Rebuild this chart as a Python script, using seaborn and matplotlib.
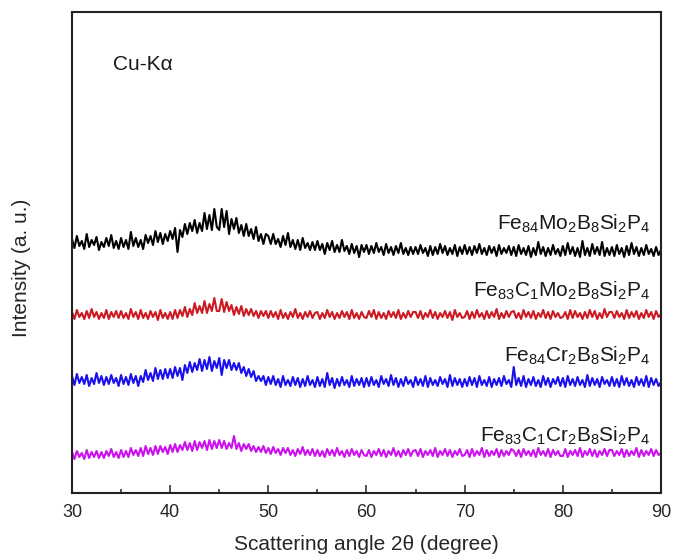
import numpy as np
import pandas as pd
import matplotlib
matplotlib.use('Agg')
import matplotlib.pyplot as plt
import seaborn as sns

# XRD patterns, 2theta from 30 to 90 deg in 0.25 deg steps (241 points each)
two_theta = np.arange(30, 90.01, 0.25)

samples = ['Fe84Mo2B8Si2P4', 'Fe83C1Mo2B8Si2P4', 'Fe84Cr2B8Si2P4', 'Fe83C1Cr2B8Si2P4']
sample_labels = [r'$\mathregular{Fe_{84}Mo_{2}B_{8}Si_{2}P_{4}}$',
                 r'$\mathregular{Fe_{83}C_{1}Mo_{2}B_{8}Si_{2}P_{4}}$',
                 r'$\mathregular{Fe_{84}Cr_{2}B_{8}Si_{2}P_{4}}$',
                 r'$\mathregular{Fe_{83}C_{1}Cr_{2}B_{8}Si_{2}P_{4}}$']
label_y = [263, 196, 131, 51]
colors = ['#000000', '#cc1a22', '#1a10ee', '#cc11ee']

# intensities (a.u., curves already stacked)
int_fe84mo = [
    254,245,257,247,252,244,259,246,253,248,256,243,251,246,255,247,258,245,252,244,
    255,246,253,244,261,247,255,246,253,244,258,250,257,248,262,251,260,249,259,252,
    262,254,265,241,263,256,269,259,270,262,273,260,270,262,280,264,278,263,284,266,
    263,284,266,282,259,274,264,275,260,268,257,269,257,264,254,266,252,259,249,259,
    257,249,259,249,254,246,257,248,260,246,253,244,253,243,255,245,250,243,251,243,
    252,243,249,239,250,243,252,241,248,241,253,242,247,239,249,240,247,236,248,241,
    248,239,247,240,250,241,246,238,249,240,246,238,247,240,250,239,245,238,246,239,
    246,239,248,240,245,237,247,238,246,239,249,240,247,238,245,239,248,237,246,239,
    248,239,246,238,247,240,249,239,245,238,247,240,246,237,248,239,245,240,247,238,
    246,237,248,239,245,238,247,236,245,238,251,239,246,237,245,238,248,239,244,237,
    247,238,250,239,246,237,245,236,252,238,245,237,249,239,246,238,251,237,245,238,
    246,237,248,239,245,236,247,238,250,239,246,237,245,238,248,239,244,237,246,238,
    243]
int_fe83c1mo = [
    181,174,183,176,180,174,182,175,184,176,181,174,180,175,183,174,181,176,182,175,
    182,175,180,174,184,176,181,174,183,175,180,174,182,176,181,173,183,175,180,174,
    181,174,183,175,183,177,186,176,184,178,190,180,187,180,192,180,189,182,195,182,
    182,194,181,191,182,188,178,186,179,187,177,184,178,184,177,182,175,182,177,182,
    175,182,176,181,174,183,175,180,174,181,176,184,175,180,174,181,176,182,175,180,
    181,174,180,175,183,176,181,174,180,175,182,176,181,174,183,175,180,174,181,176,
    175,182,176,183,174,181,175,180,174,182,176,181,175,183,174,180,175,182,176,181,
    181,175,182,174,180,176,183,175,181,174,180,176,182,175,181,173,183,176,180,175,
    176,182,174,181,175,183,176,180,174,182,175,181,176,184,174,180,175,182,176,181,
    182,175,180,174,183,176,181,175,182,174,180,176,183,175,181,174,182,176,180,175,
    176,181,174,183,175,182,176,180,174,181,175,183,176,182,174,180,175,184,176,181,
    181,175,182,176,180,174,183,175,181,176,182,174,180,175,183,176,181,174,182,176,
    179]
int_fe84cr = [
    117,108,119,110,116,109,118,107,115,109,120,110,117,108,116,109,118,110,115,107,
    118,109,116,108,119,110,117,107,117,111,123,113,120,112,125,114,123,114,124,115,
    124,115,126,117,125,113,128,120,131,121,130,123,134,122,133,124,136,122,132,125,
    135,118,133,125,133,123,130,123,130,120,126,117,124,116,122,112,117,112,117,108,
    116,109,117,108,114,106,117,108,113,107,116,108,115,106,114,107,117,108,113,106,
    116,107,114,106,120,108,115,105,114,107,116,108,113,106,117,107,114,108,115,106,
    115,107,116,108,113,106,117,109,114,107,118,108,115,106,114,107,116,109,113,106,
    116,108,114,107,117,106,115,108,113,107,116,109,114,106,118,107,115,108,114,106,
    114,107,116,108,115,106,117,108,113,107,116,106,114,108,115,107,117,109,113,106,
    126,108,115,107,117,106,114,108,116,107,113,106,117,108,115,106,114,109,116,107,
    115,106,117,108,114,107,116,108,113,106,118,107,115,108,114,106,116,109,113,107,
    116,107,114,106,117,108,115,107,113,106,116,108,114,107,117,106,115,108,114,107,
    111]
int_fe83c1cr = [
    41,34,42,36,40,34,43,35,41,36,42,35,41,35,42,37,44,36,41,35,
    43,36,42,36,45,38,43,37,45,37,47,39,45,38,47,39,47,41,46,39,
    48,41,49,41,48,43,51,43,50,42,52,43,51,45,52,43,53,44,52,45,
    53,45,52,44,50,45,57,44,50,42,49,44,49,42,47,41,46,41,47,40,
    45,39,46,40,44,38,45,40,45,38,43,37,44,39,46,38,43,38,44,37,
    43,37,42,36,44,38,43,37,45,38,42,36,43,37,44,38,42,36,43,38,
    37,43,36,42,38,44,37,43,36,42,38,45,37,42,36,43,38,44,37,42,
    43,37,44,36,42,38,43,37,45,36,42,38,44,37,43,36,42,38,44,37,
    38,43,36,44,37,42,38,45,36,43,37,42,38,44,36,43,37,42,38,44,
    42,37,43,36,44,38,42,37,43,36,45,38,42,37,44,36,43,38,42,37,
    37,44,36,42,38,43,37,45,36,42,38,44,37,43,36,42,38,44,37,43,
    43,37,42,38,44,36,43,37,42,38,45,36,43,37,42,38,44,37,43,38,
    40]

sns.set_style('white')
plt.rcParams['font.family'] = ['Liberation Sans', 'DejaVu Sans']
plt.rcParams['mathtext.fontset'] = 'custom'
plt.rcParams['mathtext.rm'] = 'Liberation Sans'

frames = []
for name, vals in zip(samples, [int_fe84mo, int_fe83c1mo, int_fe84cr, int_fe83c1cr]):
    frames.append(pd.DataFrame({'two_theta': two_theta, 'intensity': vals, 'sample': name}))
df = pd.concat(frames, ignore_index=True)

fig, ax = plt.subplots(figsize=(6.74, 5.55), dpi=100)
fig.subplots_adjust(left=0.1068, right=0.9807, bottom=0.1117, top=0.9784)

sns.lineplot(data=df, x='two_theta', y='intensity', hue='sample',
             palette=dict(zip(samples, colors)), estimator=None, sort=False,
             lw=1.5, legend=False, ax=ax)

for lab, yy in zip(sample_labels, label_y):
    ax.text(88.9, yy, lab, ha='right', va='baseline', fontsize=15, color='#1a1a1a')
ax.text(34.2, 423, 'Cu-Kα', ha='left', va='baseline', fontsize=15, color='#1a1a1a')

ax.set_xlim(30, 90)
ax.set_ylim(0, 481)
ax.set_xticks([30, 40, 50, 60, 70, 80, 90])
ax.set_xticks([35, 45, 55, 65, 75, 85], minor=True)
ax.set_yticks([])
ax.tick_params(axis='x', which='both', direction='in', bottom=True, top=False,
               labelsize=13, pad=8, width=1.1, color='#222222')
ax.tick_params(axis='x', which='major', length=6)
ax.tick_params(axis='x', which='minor', length=3)
for sp in ax.spines.values():
    sp.set_linewidth(1.5)
    sp.set_color('#222222')

ax.set_xlabel('Scattering angle 2θ (degree)', fontsize=15, labelpad=10)
ax.set_ylabel('Intensity (a. u.)', fontsize=15)
ax.yaxis.set_label_coords(-0.07, 0.468)

fig.savefig('out.png', dpi=100)
